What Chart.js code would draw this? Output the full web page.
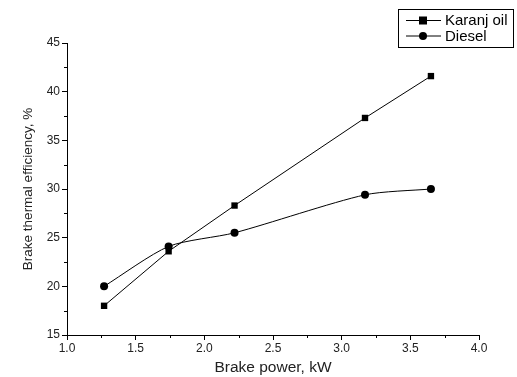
<!DOCTYPE html>
<html>
<head>
<meta charset="utf-8">
<script src="https://cdn.jsdelivr.net/npm/chart.js@4.4.1/dist/chart.umd.min.js"></script>
<style>
    html, body { margin: 0; padding: 0; background: #fff; }
    #wrap { width: 517px; height: 377px; position: relative; }
</style>
</head>
<body>
<div id="wrap"><canvas id="bte"></canvas></div>
<script>
(function () {
    "use strict";

    // Data
    const brakePower = [1.27, 1.74, 2.22, 3.17, 3.65];
    const karanjOil = [18.0, 23.6, 28.3, 37.3, 41.6];
    const diesel = [20.0, 24.1, 25.5, 29.4, 30.0];
    const seriesNames = ["Karanj oil", "Diesel"];
    const xTicks = [1.0, 1.5, 2.0, 2.5, 3.0, 3.5, 4.0];
    const yTicks = [15, 20, 25, 30, 35, 40, 45];

    const font = "'Liberation Sans', Arial, sans-serif";

    const toPoints = (ys) => brakePower.map((x, i) => ({ x: x, y: ys[i] }));

    // minor ticks half way between the major ones
    const minorTicks = {
        id: "minorTicks",
        afterDraw(chart) {
            const c = chart.ctx;
            const xs = chart.scales.x;
            const ys = chart.scales.y;
            c.save();
            c.strokeStyle = "#000";
            c.lineWidth = 1;
            c.beginPath();
            for (let i = 0; i < xTicks.length - 1; i++) {
                const px = Math.round(xs.getPixelForValue((xTicks[i] + xTicks[i + 1]) / 2)) + 0.5;
                c.moveTo(px, ys.bottom);
                c.lineTo(px, ys.bottom + 3);
            }
            for (let i = 0; i < yTicks.length - 1; i++) {
                const py = Math.round(ys.getPixelForValue((yTicks[i] + yTicks[i + 1]) / 2)) + 0.5;
                c.moveTo(xs.left, py);
                c.lineTo(xs.left - 3, py);
            }
            c.stroke();
            c.restore();
        },
    };

    // boxed legend in the top right corner, line-marker-line samples
    const boxLegend = {
        id: "boxLegend",
        afterDraw(chart) {
            const c = chart.ctx;
            const x0 = 398.5, y0 = 9.5, w = 115, h = 38;
            c.save();
            c.strokeStyle = "#000";
            c.lineWidth = 1;
            c.strokeRect(x0, y0, w, h);
            chart.data.datasets.forEach((ds, i) => {
                const cy = 20 + i * 15.5;
                c.beginPath();
                c.moveTo(406, cy + 0.5);
                c.lineTo(441, cy + 0.5);
                c.stroke();
                c.fillStyle = "#000";
                if (ds.pointStyle === "rect") {
                    c.fillRect(419, cy - 3.5, 8, 8);
                } else {
                    c.beginPath();
                    c.arc(423, cy + 0.5, 4, 0, Math.PI * 2);
                    c.fill();
                }
                c.font = "15px " + font;
                c.textBaseline = "middle";
                c.textAlign = "left";
                c.fillText(ds.label, 445, cy + 1);
            });
            c.restore();
        },
    };

    const axisCommon = {
        border: { display: true, color: "#000", width: 1 },
        grid: {
            display: true,
            drawOnChartArea: false,
            drawTicks: true,
            tickLength: 5,
            tickColor: "#000",
            tickWidth: 1,
        },
    };

    const ctx = document.getElementById("bte").getContext("2d");
    new Chart(ctx, {
        type: "line",
        data: {
            datasets: [
                {
                    label: seriesNames[0],
                    data: toPoints(karanjOil),
                    borderColor: "#000",
                    backgroundColor: "#000",
                    borderWidth: 1,
                    pointStyle: "rect",
                    pointRadius: 4.5,
                    pointBorderWidth: 0,
                    tension: 0,
                },
                {
                    label: seriesNames[1],
                    data: toPoints(diesel),
                    borderColor: "#000",
                    backgroundColor: "#000",
                    borderWidth: 1,
                    pointStyle: "circle",
                    pointRadius: 4,
                    pointBorderWidth: 0,
                    tension: 0.25,
                },
            ],
        },
        options: {
            responsive: true,
            maintainAspectRatio: false,
            animation: false,
            layout: { padding: { top: 43, right: 38, left: 20, bottom: 0 } },
            plugins: {
                legend: { display: false },
                tooltip: { enabled: false },
            },
            scales: {
                x: {
                    ...axisCommon,
                    type: "linear",
                    min: 1,
                    max: 4,
                    afterBuildTicks: (scale) => {
                        scale.ticks = xTicks.map((v) => ({ value: v }));
                    },
                    afterFit: (scale) => {
                        scale.height = 42;
                    },
                    ticks: {
                        color: "#222",
                        font: { family: font, size: 12 },
                        padding: 1,
                        maxRotation: 0,
                        callback: (v) => v.toFixed(1),
                    },
                    title: {
                        display: true,
                        text: "Brake power, kW",
                        color: "#222",
                        font: { family: font, size: 15.5 },
                        padding: { top: 2, bottom: 0 },
                    },
                },
                y: {
                    ...axisCommon,
                    type: "linear",
                    min: 15,
                    max: 45,
                    afterBuildTicks: (scale) => {
                        scale.ticks = yTicks.map((v) => ({ value: v }));
                    },
                    afterFit: (scale) => {
                        scale.width = 47;
                    },
                    ticks: {
                        color: "#222",
                        font: { family: font, size: 12 },
                        padding: 2,
                    },
                    title: {
                        display: true,
                        text: "Brake thermal efficiency, %",
                        color: "#222",
                        font: { family: font, size: 13.5 },
                        padding: { top: 0, bottom: 0 },
                    },
                },
            },
        },
        plugins: [minorTicks, boxLegend],
    });
})();
</script>
</body>
</html>
